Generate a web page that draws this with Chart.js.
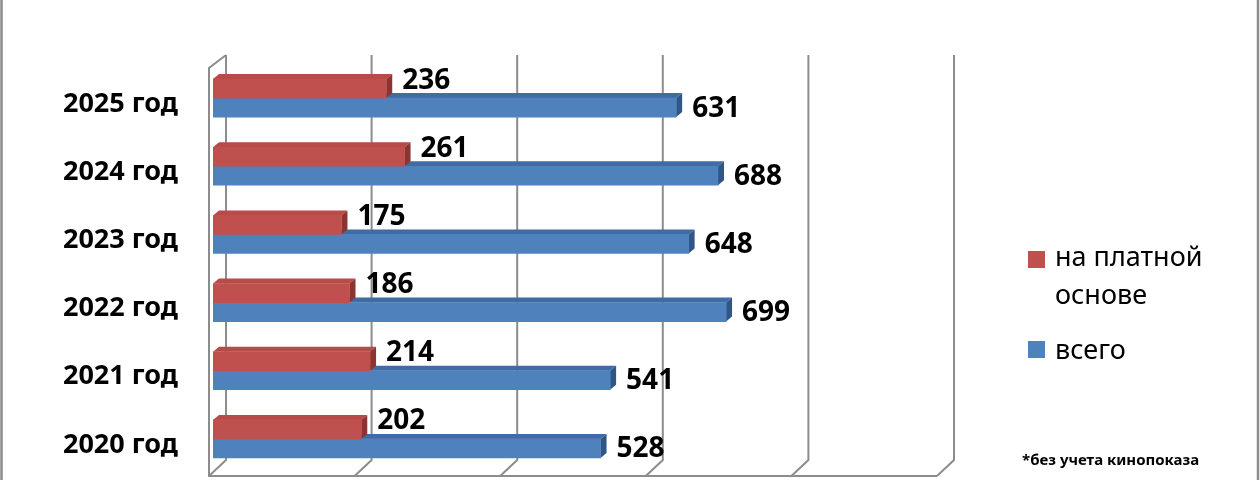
<!DOCTYPE html>
<html>
<head>
<meta charset="utf-8">
<script src="https://cdn.jsdelivr.net/npm/chart.js@4.4.1/dist/chart.umd.min.js"></script>
<style>
  html, body { margin: 0; padding: 0; background: #fff; }
  #wrap { position: relative; width: 1260px; height: 480px; overflow: hidden; }
  #c { position: absolute; left: 0; top: 0; }
  .leg { position: absolute; font-family: "Noto Sans", sans-serif; font-size: 27px; color: #000; line-height: 38px; }
  .sw { position: absolute; width: 17px; height: 17px; }
  #note { position: absolute; left: 1022px; top: 449px; font-family: "Noto Sans", sans-serif; font-weight: bold; font-size: 15px; color: #000; white-space: nowrap; }
</style>
</head>
<body>
<div id="wrap">
  <canvas id="c" width="1260" height="480"></canvas>
  <div class="sw" style="left:1028px; top:251px; background:#C0504D;"></div>
  <div class="leg" id="leg1" style="left:1055px; top:237px;">на платной<br>основе</div>
  <div class="sw" style="left:1028px; top:341px; background:#4F81BD;"></div>
  <div class="leg" id="leg2" style="left:1055px; top:330px;">всего</div>
  <div id="note">*без учета кинопоказа</div>
</div>
<script>
// ---- data ----
const categories = ['2025 год', '2024 год', '2023 год', '2022 год', '2021 год', '2020 год'];
const paidValues = [236, 261, 175, 186, 214, 202];
const totalValues = [631, 688, 648, 699, 541, 528];
const seriesNames = ['на платной основе', 'всего'];
const axisMin = 0;
const axisMax = 1000;
const axisStep = 200;

// ---- styling ----
const RED = '#C0504D', RED_TOP = '#B84A47', RED_SIDE = '#8C3432';
const BLUE = '#4F81BD', BLUE_TOP = '#3F6CA3', BLUE_SIDE = '#2E5687';
const GRID = '#8C8C8C';

const threeD = {
  id: 'threeD',
  beforeDraw(chart) {
    const ctx = chart.ctx;
    ctx.save();
    ctx.strokeStyle = GRID;
    ctx.lineWidth = 2.5;
    ctx.beginPath();
    ctx.moveTo(1.5, 0); ctx.lineTo(1.5, 480);
    ctx.moveTo(1258, 0); ctx.lineTo(1258, 480);
    ctx.stroke();
    ctx.restore();
  },
  beforeDatasetsDraw(chart) {
    const ctx = chart.ctx;
    const xs = chart.scales.x;
    const area = chart.chartArea;
    const backTop = area.top - 9, backBot = area.bottom - 13, floorY = area.bottom + 3;
    const depthX = 17;
    const backX = v => xs.getPixelForValue(v) + 13 - 6 * (v - axisMin) / (axisMax - axisMin);
    ctx.save();
    ctx.strokeStyle = GRID;
    ctx.lineWidth = 2;
    ctx.beginPath();
    for (let v = axisMin; v <= axisMax; v += axisStep) {
      const bx = backX(v);
      ctx.moveTo(bx, backTop);
      ctx.lineTo(bx, backBot);
      ctx.lineTo(bx - depthX, floorY);
    }
    const fx0 = backX(axisMin) - depthX;
    ctx.moveTo(backX(axisMin), backTop);
    ctx.lineTo(fx0, backTop + 13);
    ctx.lineTo(fx0, floorY);
    ctx.lineTo(backX(axisMax) - depthX, floorY);
    ctx.stroke();

    const dx = 6, dy = 5;
    const faces = [[1, BLUE_TOP, BLUE_SIDE], [0, RED_TOP, RED_SIDE]];
    const n = categories.length;
    for (let i = 0; i < n; i++) {
      for (const [di, topC, sideC] of faces) {
        const el = chart.getDatasetMeta(di).data[i];
        const x0 = el.base, x1 = el.x, t = el.y - el.height / 2, b = el.y + el.height / 2;
        ctx.fillStyle = topC;
        ctx.beginPath();
        ctx.moveTo(x0, t); ctx.lineTo(x0 + dx, t - dy); ctx.lineTo(x1 + dx, t - dy); ctx.lineTo(x1, t);
        ctx.closePath(); ctx.fill();
        ctx.fillStyle = sideC;
        ctx.beginPath();
        ctx.moveTo(x1, t); ctx.lineTo(x1 + dx, t - dy); ctx.lineTo(x1 + dx, b - dy); ctx.lineTo(x1, b);
        ctx.closePath(); ctx.fill();
      }
    }
    ctx.restore();
  },
  afterDatasetsDraw(chart) {
    const ctx = chart.ctx;
    ctx.save();
    ctx.font = 'bold 28px "Noto Sans"';
    ctx.fillStyle = '#000';
    ctx.textAlign = 'left';
    ctx.textBaseline = 'middle';
    chart.data.datasets.forEach((ds, di) => {
      chart.getDatasetMeta(di).data.forEach((el, i) => {
        const yOff = di === 0 ? -8 : 1;
        ctx.fillText(String(ds.data[i]), el.x + 16, el.y + yOff);
      });
    });
    ctx.restore();
  }
};

new Chart(document.getElementById('c'), {
  type: 'bar',
  data: {
    labels: categories,
    datasets: [
      { label: seriesNames[0], data: paidValues, backgroundColor: RED, barThickness: 19 },
      { label: seriesNames[1], data: totalValues, backgroundColor: BLUE, barThickness: 19 }
    ]
  },
  options: {
    indexAxis: 'y',
    responsive: false,
    animation: false,
    devicePixelRatio: 1,
    layout: { padding: { left: 0, right: 313, top: 64, bottom: 7 } },
    plugins: { legend: { display: false }, tooltip: { enabled: false } },
    scales: {
      x: { display: false, min: axisMin, max: axisMax, ticks: { stepSize: axisStep } },
      y: {
        grid: { display: false, drawTicks: false },
        border: { display: false },
        ticks: {
          color: '#000',
          padding: 35,
          labelOffset: 6,
          font: { family: '"Noto Sans"', weight: 'bold', size: 27 }
        },
        afterFit(scale) {
          scale.width = 213;
          scale.paddingTop = 0;
          scale.paddingBottom = 0;
        }
      }
    }
  },
  plugins: [threeD]
});
</script>
</body>
</html>
